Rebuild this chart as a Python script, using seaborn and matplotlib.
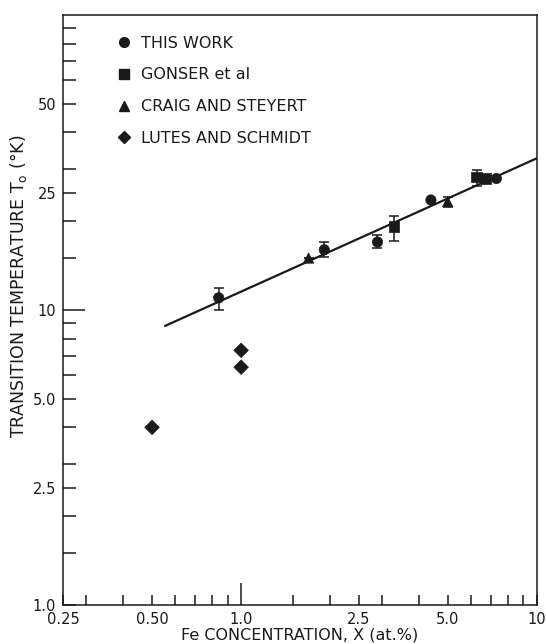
import numpy as np
import pandas as pd
import matplotlib
matplotlib.use("Agg")
import matplotlib.pyplot as plt
from matplotlib.lines import Line2D
from matplotlib.ticker import FixedLocator, FixedFormatter, NullFormatter
import seaborn as sns

# ---- data ----
this_x = [0.84, 1.91, 2.89, 4.38, 7.29]
this_y = [11.0, 16.0, 17.0, 23.6, 27.9]
this_err_lo = [1.0, 0.9, 0.8, 0.0, 0.0]
this_err_hi = [0.9, 1.0, 0.9, 0.0, 0.0]

gonser_x = [3.29, 6.25, 6.74]
gonser_y = [19.2, 28.2, 27.9]
gonser_err_lo = [2.0, 1.9, 0.0]
gonser_err_hi = [1.7, 1.7, 0.0]

craig_x = [1.69, 4.99]
craig_y = [15.0, 23.3]
craig_err_lo = [0.0, 0.9]
craig_err_hi = [0.0, 0.9]

lutes_x = [0.50, 1.0, 1.0]
lutes_y = [4.0, 7.3, 6.4]

fit_x = [0.553, 10.0]
fit_y = [8.83, 32.7]

sources = ["THIS WORK", "GONSER et al", "CRAIG AND STEYERT", "LUTES AND SCHMIDT"]

x_major = [0.25, 0.5, 1.0, 2.5, 5.0, 10.0]
x_major_labels = ["0.25", "0.50", "1.0", "2.5", "5.0", "10"]
x_minor = [0.3, 0.4, 0.6, 0.7, 0.8, 0.9, 1.5, 2, 3, 4, 6, 7, 8, 9]
y_major = [1.0, 2.5, 5.0, 10.0, 25.0, 50.0]
y_major_labels = ["1.0", "2.5", "5.0", "10", "25", "50"]
y_minor = [1.5, 2, 3, 4, 6, 7, 8, 9, 15, 20, 30, 40, 60, 70, 80, 90]

# ---- build table ----
df = pd.concat([
    pd.DataFrame({"x": this_x, "y": this_y, "source": sources[0]}),
    pd.DataFrame({"x": gonser_x, "y": gonser_y, "source": sources[1]}),
    pd.DataFrame({"x": craig_x, "y": craig_y, "source": sources[2]}),
    pd.DataFrame({"x": lutes_x, "y": lutes_y, "source": sources[3]}),
], ignore_index=True)

sns.set_style("white")
plt.rcParams["font.family"] = ["DejaVu Sans"]
ink = "#1a1a1a"

fig = plt.figure(figsize=(5.46, 6.44), dpi=100, facecolor="white")
ax = fig.add_axes([63 / 546, 39 / 644, 474 / 546, 590 / 644])
ax.set_xscale("log")
ax.set_yscale("log")

sns.lineplot(x=fit_x, y=fit_y, ax=ax, color=ink, lw=1.6)

markers = {sources[0]: "o", sources[1]: "s", sources[2]: "^", sources[3]: "D"}
sns.scatterplot(data=df, x="x", y="y", style="source", markers=markers,
                color=ink, s=55, edgecolor=ink, linewidth=0.5, legend=False, ax=ax, zorder=3)

for xs, ys, lo, hi in [(this_x, this_y, this_err_lo, this_err_hi),
                       (gonser_x, gonser_y, gonser_err_lo, gonser_err_hi),
                       (craig_x, craig_y, craig_err_lo, craig_err_hi)]:
    ax.errorbar(xs, ys, yerr=[lo, hi], fmt="none", ecolor=ink, elinewidth=1.1,
                capsize=3.5, capthick=1.1, zorder=2)

ax.set_xlim(0.25, 10)
ax.set_ylim(1.0, 100)

ax.xaxis.set_major_locator(FixedLocator(x_major))
ax.xaxis.set_major_formatter(FixedFormatter(x_major_labels))
ax.xaxis.set_minor_locator(FixedLocator(x_minor))
ax.xaxis.set_minor_formatter(NullFormatter())
ax.yaxis.set_major_locator(FixedLocator(y_major))
ax.yaxis.set_major_formatter(FixedFormatter(y_major_labels))
ax.yaxis.set_minor_locator(FixedLocator(y_minor))
ax.yaxis.set_minor_formatter(NullFormatter())

ax.tick_params(axis="both", which="both", direction="in", color=ink, width=1.1,
               labelcolor=ink, labelsize=10.5, top=False, right=False,
               bottom=True, left=True)
ax.tick_params(axis="y", which="both", length=9.5, pad=5)
ax.tick_params(axis="x", which="both", length=7, pad=5)

fig.canvas.draw()
for t in ax.xaxis.get_major_ticks():
    if abs(t.get_loc() - 1.0) < 1e-9:
        t.tick1line.set_markersize(16)
for t in ax.yaxis.get_major_ticks():
    if abs(t.get_loc() - 10.0) < 1e-9:
        t.tick1line.set_markersize(16)

for sp in ax.spines.values():
    sp.set_color(ink)
    sp.set_linewidth(1.1)

ax.set_xlabel("Fe CONCENTRATION, X (at.%)", fontsize=11.5, color=ink)
ax.xaxis.set_label_coords(0.5, -0.038)
ax.set_ylabel("TRANSITION TEMPERATURE T$_\\mathregular{o}$ (°K)", fontsize=12.5, color=ink)
ax.yaxis.set_label_coords(-0.072, 0.54)

handles = [Line2D([], [], linestyle="none", marker=markers[s], color=ink,
                  markersize=7 if s != sources[3] else 6.5) for s in sources]
ax.legend(handles, sources, loc="upper left", bbox_to_anchor=(0.112, 0.965),
          frameon=False, borderaxespad=0, borderpad=0, handlelength=1.0,
          handletextpad=0.55, labelspacing=1.05, fontsize=11.5, labelcolor=ink)

fig.savefig("out.png", dpi=100, facecolor="white")
